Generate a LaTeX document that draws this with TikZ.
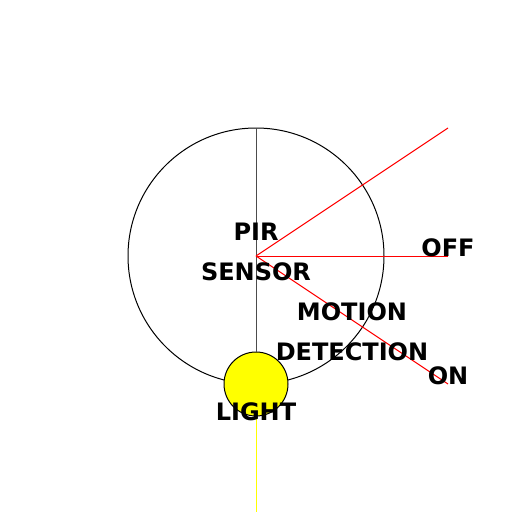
\documentclass[tikz,border=0pt]{standalone}
\usepackage{fontspec}
\setmainfont{DejaVu Sans}
\definecolor{pureyellow}{RGB}{255,255,0}
\begin{document}
\begin{tikzpicture}[x=1pt,y=-1pt,
  lbl/.style={font=\fontsize{24}{28}\selectfont\bfseries, inner sep=0pt, text=black},
  redline/.style={draw=red, line width=1pt},
  thin/.style={line width=1pt}]
\useasboundingbox (0,0) rectangle (512,512);
\coordinate (c) at (256,256);
\coordinate (top) at (256,128);
\coordinate (r1) at (448,128);
\coordinate (r2) at (448,256);
\coordinate (r3) at (448,384);
\coordinate (bot) at (256,512);
\node[draw=black, thin, circle, minimum size=256pt, inner sep=0pt] (big) at (c) {};
\node[draw=black, thin, fill=pureyellow, circle, minimum size=64pt, inner sep=0pt] (light) at (256,384) {};
\draw[draw=black!70, thin] (top) -- (light.north);
\draw[draw=pureyellow, thin] (light.south) -- (bot);
\draw[redline] (c) -- (r1);
\draw[redline] (c) -- (r2);
\draw[redline] (c) -- (r3);
\node[lbl] (pir) at (256,232) {PIR};
\node[lbl] (sensor) at (256,272) {SENSOR};
\node[lbl] (off) at (448,248) {OFF};
\node[lbl] (motion) at (352,312) {MOTION};
\node[lbl] (detection) at (352,352) {DETECTION};
\node[lbl] (on) at (448,376) {ON};
\node[lbl] (lighttxt) at (256,412) {LIGHT};
\end{tikzpicture}
\end{document}
